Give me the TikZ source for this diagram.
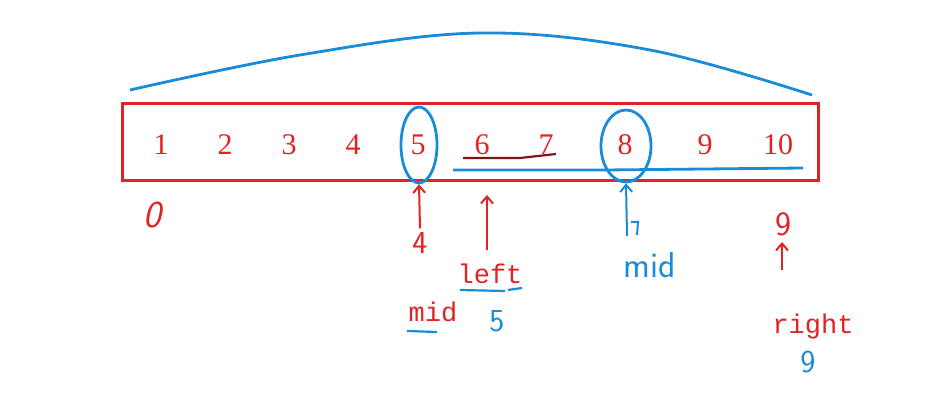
\documentclass[tikz,border=0pt]{standalone}
\usepackage{fontspec}
\setmainfont{Liberation Serif}
\newfontfamily\monofont{Liberation Mono}
\usetikzlibrary{shapes.geometric,arrows.meta,positioning,calc}
\definecolor{penred}{RGB}{225,35,35}
\definecolor{penblue}{RGB}{25,140,215}
\definecolor{darkpen}{RGB}{130,20,20}

\begin{document}
\begin{tikzpicture}[x=1pt,y=-1pt,
    num/.style={text=penred,anchor=base,font=\fontsize{30}{30}\selectfont},
    word/.style={text=penred,anchor=base,font=\monofont\fontsize{27}{27}\selectfont},
    hand/.style={anchor=base,font=\sffamily\fontsize{32}{32}\selectfont},
    ring/.style={draw=penblue,line width=2.8pt,ellipse,inner sep=0pt},
    blueline/.style={penblue,line width=2.8pt},
    redpen/.style={draw=penred,line width=2pt,-{Straight Barb[length=7pt,width=12pt]}},
    bluepen/.style={draw=penblue,line width=2pt,-{Straight Barb[length=7pt,width=12pt]}}]
        \useasboundingbox (0,0) rectangle (945,406);
        % Array box
        \draw[penred,line width=3pt] (122,104) rectangle (818,181);
        \foreach \i/\x in {1/161,2/225,3/289,4/353,5/418,6/482,7/546,8/625,9/705,10/778}
          \node[num] (n\i) at (\x,155) {\i};
        % Circled mids
        \node[ring,minimum width=36pt,minimum height=76pt] (c5) at (419,145) {};
        \node[ring,minimum width=50pt,minimum height=72pt] (c8) at (626,146) {};
        % Arc over the whole range
        \draw[blueline] plot[smooth,tension=0.6] coordinates
          {(130,90) (300,55) (480,33) (650,50) (812,95)};
        % Underlines in the box
        \draw[darkpen,line width=2.2pt] (463,158) -- (520,158) -- (556,154);
        \draw[blueline] (453,170) -- (605,170) -- (803,168);
        % Index labels
        \node[hand,text=penred,font=\sffamily\itshape\fontsize{38}{38}\selectfont] (z0) at (152,228) {0};
        \node[hand,text=penred] (d4) at (420,253) {4};
        \node[hand,text=penblue] (d5) at (497,331) {5};
        \node[hand,text=penred,font=\sffamily\fontsize{34}{34}\selectfont] (r9) at (783,236) {9};
        \node[hand,text=penblue] (b9) at (808,372) {9};
        \node[hand,text=penblue,font=\sffamily\fontsize{36}{36}\selectfont] (bmid) at (650,277) {mid};
        % Pointer names
        \node[word] (lft) at (490,283) {left};
        \node[word] (mid) at (433,321) {mid};
        \node[word] (rgt) at (813,333) {right};
        \draw[blueline,line width=2.2pt] (460,290) -- (505,291) (508,290) -- (522,288);
        \draw[blueline,line width=2.2pt] (407,331) -- (437,332);
        % Pointer arrows
        \coordinate (ltail) at (487,250);
        \coordinate (lhead) at (487,195);
        \coordinate (mtail) at (627,236);
        \coordinate (rtail) at (782,270);
        \coordinate (rhead) at (782,242);
        \draw[redpen] (d4.north) -- (c5.south);
        \draw[redpen] (ltail) -- (lhead);
        \draw[bluepen] (mtail) -- (c8.south);
        \draw[penblue,line width=2pt] (631,222) -- (638,222) -- (637,235);
        \draw[redpen] (rtail) -- (rhead);
      \end{tikzpicture}
\end{document}
